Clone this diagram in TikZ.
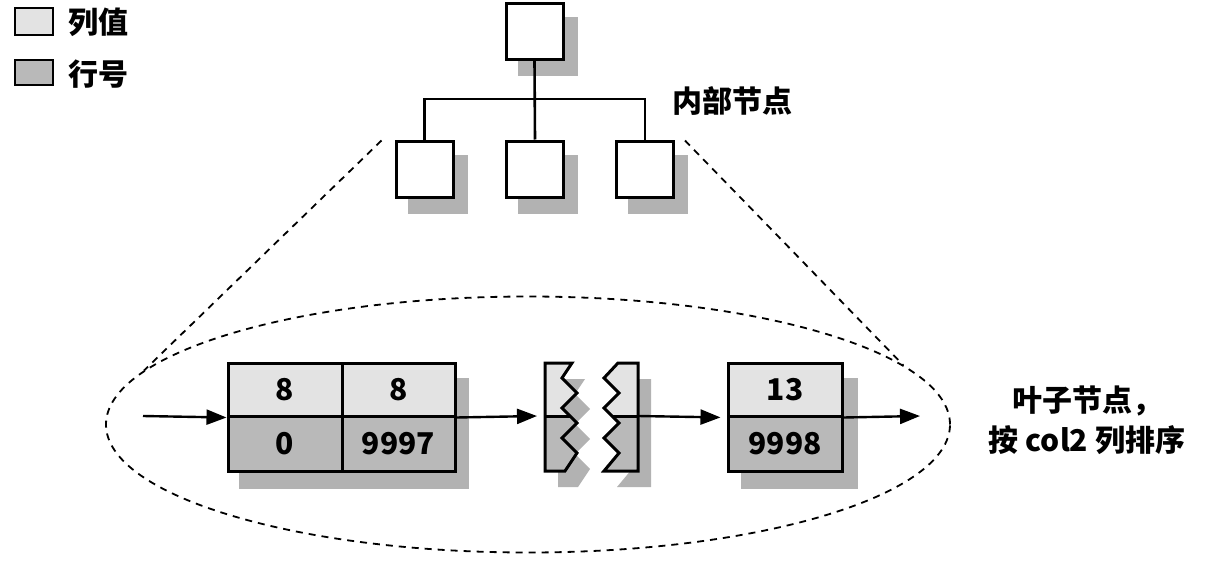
\documentclass[tikz,border=0pt]{standalone}
\usepackage{fontspec}
\setmainfont{Noto Sans CJK SC}
\usetikzlibrary{arrows.meta,shapes.geometric,backgrounds}
\tikzset{
  box/.style={draw, line width=3pt, fill=white, minimum width=57pt, minimum height=56pt, inner sep=0pt},
  colv/.style={draw, line width=3pt, fill=gray!22, inner sep=0pt, font=\fontsize{30}{30}\selectfont\bfseries},
  rowv/.style={draw, line width=3pt, fill=gray!55, inner sep=0pt, font=\fontsize{30}{30}\selectfont\bfseries},
  shadowfill/.style={fill=gray!60},
  conn/.style={line width=2.6pt},
  arr/.style={line width=2.4pt, -{Triangle[length=20pt,width=15pt]}},
  dashline/.style={line width=1.8pt, dash pattern=on 7pt off 6pt},
  lbl/.style={font=\fontsize{30}{40}\selectfont\bfseries, inner sep=0pt}
}
\begin{document}
\begin{tikzpicture}[x=1pt,y=-1pt]
\useasboundingbox (0,0) rectangle (1208,562);

% legend
\node[colv, line width=2pt, minimum width=38pt, minimum height=27pt] (lg1) at (34,21.5) {};
\node[lbl, anchor=west] (lt1) at (68,22) {列值};
\node[rowv, line width=2pt, minimum width=38pt, minimum height=25pt] (lg2) at (34,72.5) {};
\node[lbl, anchor=west] (lt2) at (68,74) {行号};

% leaf zone ellipse
\node[draw, dashline, ellipse, minimum width=844pt, minimum height=256pt] (zone) at (528,424.5) {};

% tree
\node[box] (top) at (534.5,31.5) {};
\node[box] (l) at (424.5,169) {};
\node[box] (m) at (535,169) {};
\node[box] (r) at (645,169) {};
\coordinate (hbar) at (535,99);
\draw[conn] (top.south) -- (m.north);
\draw[conn] (l.north) |- (hbar) -| (r.north);
\node[lbl, anchor=west] (inner) at (672,101) {内部节点};

\draw[dashline] ([shift={(-13,1)}]l.north west) -- (zone.172);
\draw[dashline] ([shift={(10,1)}]r.north east) -- (zone.9);

% leaf block 1
\node[colv, minimum width=114pt, minimum height=53pt] (c11) at (285,389.5) {8};
\node[colv, minimum width=113pt, minimum height=53pt] (c12) at (398.5,389.5) {8};
\node[rowv, minimum width=114pt, minimum height=55pt] (c21) at (285,443.5) {0};
\node[rowv, minimum width=113pt, minimum height=55pt] (c22) at (398.5,443.5) {9997};

% leaf block 3
\node[colv, minimum width=114pt, minimum height=53pt] (t3) at (785,389.5) {13};
\node[rowv, minimum width=114pt, minimum height=55pt] (b3) at (785,443.5) {9998};

% broken pieces
\def\leftpiece{(545,363) -- (572,363) -- (562,378) -- (577,393) -- (562,408) -- (577,423) -- (562,438) -- (577,453) -- (565,471) -- (545,471) -- cycle}
\def\rightpiece{(618,363) -- (638,363) -- (638,471) -- (604,471) -- (619,453) -- (604,438) -- (619,423) -- (604,408) -- (619,393) -- (604,378) -- cycle}
\fill[shadowfill] [shift={(13,16)}] \leftpiece;
\fill[shadowfill] [shift={(13,16)}] \rightpiece;
\begin{scope}
  \clip \leftpiece;
  \fill[gray!22] (540,360) rectangle (590,416);
  \fill[gray!55] (540,416) rectangle (590,475);
  \draw[line width=3pt] (540,416) -- (590,416);
\end{scope}
\begin{scope}
  \clip \rightpiece;
  \fill[gray!22] (600,360) rectangle (645,416);
  \fill[gray!55] (600,416) rectangle (645,475);
  \draw[line width=3pt] (600,416) -- (645,416);
\end{scope}
\draw[line width=3pt, line join=miter] \leftpiece;
\draw[line width=3pt, line join=miter] \rightpiece;
\coordinate (bk1) at (537,416);
\coordinate (bk2) at (638,416);

% arrows
\coordinate (in) at (143,416);
\coordinate (out) at (920,416);
\draw[arr] (in) -- (c11.south west);
\draw[arr] (c12.south east) -- (bk1);
\draw[arr, shorten >=6pt] (bk2) -- (t3.south west);
\draw[arr] (t3.south east) -- (out);

\node[lbl, align=center] (leaf) at (1087,420) {叶子节点，\\按 col2 列排序};

% shadows
\begin{scope}[on background layer]
  \foreach \n in {top,l,m,r} {
    \fill[shadowfill] ([shift={(13,15)}]\n.north west) rectangle ([shift={(13,15)}]\n.south east);
  }
  \fill[shadowfill] ([shift={(12,16)}]c11.north west) rectangle ([shift={(12,16)}]c22.south east);
  \fill[shadowfill] ([shift={(14,16)}]t3.north west) rectangle ([shift={(14,16)}]b3.south east);
\end{scope}
\end{tikzpicture}
\end{document}
